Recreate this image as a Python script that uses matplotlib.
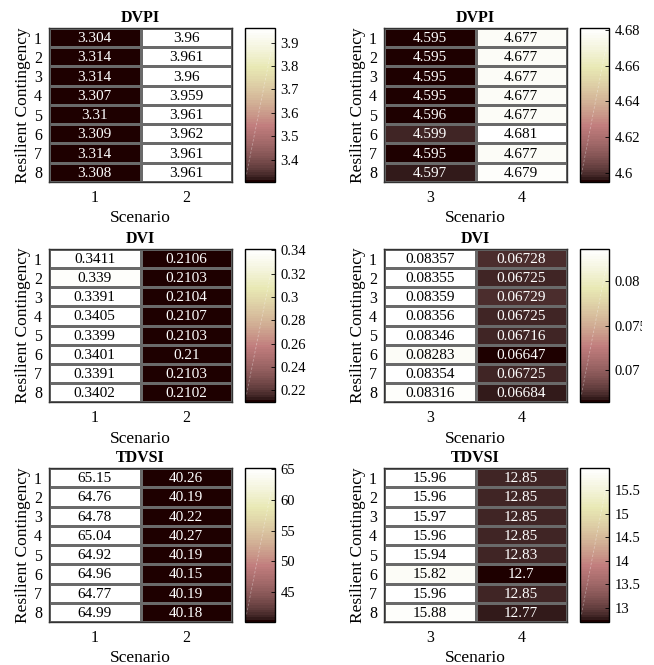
import numpy as np
import matplotlib
matplotlib.use("Agg")
from matplotlib import pyplot as plt
from matplotlib import ticker
from matplotlib.transforms import Bbox, TransformedBbox

plt.rcParams['font.family'] = ['Liberation Serif', 'DejaVu Serif']

contingency = ['1', '2', '3', '4', '5', '6', '7', '8']

dvpi_s1 = [3.304, 3.314, 3.314, 3.307, 3.31, 3.309, 3.314, 3.308]
dvpi_s2 = [3.96, 3.961, 3.96, 3.959, 3.961, 3.962, 3.961, 3.961]
dvpi_s3 = [4.595, 4.595, 4.595, 4.595, 4.596, 4.599, 4.595, 4.597]
dvpi_s4 = [4.677, 4.677, 4.677, 4.677, 4.677, 4.681, 4.677, 4.679]

dvi_s1 = [0.3411, 0.339, 0.3391, 0.3405, 0.3399, 0.3401, 0.3391, 0.3402]
dvi_s2 = [0.2106, 0.2103, 0.2104, 0.2107, 0.2103, 0.21, 0.2103, 0.2102]
dvi_s3 = [0.08357, 0.08355, 0.08359, 0.08356, 0.08346, 0.08283, 0.08354, 0.08316]
dvi_s4 = [0.06728, 0.06725, 0.06729, 0.06725, 0.06716, 0.06647, 0.06725, 0.06684]

tdvsi_s1 = [65.15, 64.76, 64.78, 65.04, 64.92, 64.96, 64.77, 64.99]
tdvsi_s2 = [40.26, 40.19, 40.22, 40.27, 40.19, 40.15, 40.19, 40.18]
tdvsi_s3 = [15.96, 15.96, 15.97, 15.96, 15.94, 15.82, 15.96, 15.88]
tdvsi_s4 = [12.85, 12.85, 12.85, 12.85, 12.83, 12.7, 12.85, 12.77]

panels = [
    ('DVPI', ['1', '2'], [dvpi_s1, dvpi_s2], [3.4, 3.5, 3.6, 3.7, 3.8, 3.9]),
    ('DVPI', ['3', '4'], [dvpi_s3, dvpi_s4], [4.6, 4.62, 4.64, 4.66, 4.68]),
    ('DVI', ['1', '2'], [dvi_s1, dvi_s2], [0.22, 0.24, 0.26, 0.28, 0.3, 0.32, 0.34]),
    ('DVI', ['3', '4'], [dvi_s3, dvi_s4], [0.07, 0.075, 0.08]),
    ('TDVSI', ['1', '2'], [tdvsi_s1, tdvsi_s2], [45, 50, 55, 60, 65]),
    ('TDVSI', ['3', '4'], [tdvsi_s3, tdvsi_s4], [13, 13.5, 14, 14.5, 15, 15.5]),
]

W, H = 654, 665
fig = plt.figure(figsize=(W / 100, H / 100), dpi=100)

# pixel boxes (left, right, cbar left, cbar right) and (top, bottom)
col_x = [(49, 232, 245, 275), (384, 567, 580, 609)]
row_y = [(28, 182), (249, 402), (468, 622)]

cmap = plt.get_cmap('pink', 64)

for i, (title, scen, cols, cticks) in enumerate(panels):
    r, c = divmod(i, 2)
    hx0, hx1, cx0, cx1 = col_x[c]
    y0, y1 = row_y[r]
    ax = fig.add_axes([hx0 / W, 1 - y1 / H, (hx1 - hx0) / W, (y1 - y0) / H])
    cax = fig.add_axes([cx0 / W, 1 - y1 / H, (cx1 - cx0) / W, (y1 - y0) / H])

    data = np.array(cols).T
    vmin, vmax = data.min(), data.max()
    mesh = ax.pcolormesh(data, cmap=cmap, vmin=vmin, vmax=vmax,
                         edgecolors='#6a6a6a', linewidth=0.8)
    ax.set_xlim(0, data.shape[1])
    ax.set_ylim(data.shape[0], 0)
    for (yy, xx), v in np.ndenumerate(data):
        frac = (v - vmin) / (vmax - vmin)
        ax.text(xx + 0.5, yy + 0.55, f'{v:.4g}', ha='center', va='center',
                fontsize=11, color='white' if frac < 0.5 else 'black')

    ax.set_xticks(np.arange(data.shape[1]) + 0.5)
    ax.set_xticklabels(scen)
    ax.set_yticks(np.arange(data.shape[0]) + 0.5)
    ax.set_yticklabels(contingency)
    ax.tick_params(length=0, labelsize=11.5, pad=6)
    ax.tick_params(axis='y', pad=5)
    ax.set_xlabel('Scenario', fontsize=12.5, labelpad=3)
    ax.set_ylabel('Resilient Contingency', fontsize=12.5, labelpad=2)
    ax.set_title(title, fontsize=11.5, fontweight='bold', pad=4)
    for s in ax.spines.values():
        s.set_color('#333333')
        s.set_linewidth(1)

    cb = fig.colorbar(mesh, cax=cax)
    cb.set_ticks(cticks)
    cb.ax.yaxis.set_major_formatter(ticker.StrMethodFormatter('{x:g}'))
    cb.ax.tick_params(direction='in', length=3, width=0.6, labelsize=10.5, pad=4)
    cb.outline.set_linewidth(1)
    cb.outline.set_edgecolor('black')
    cax.plot([0.05, 0.92], [0.05, 0.9], transform=cax.transAxes,
             color='white', lw=0.6, ls=(0, (3, 2)), alpha=0.35)

    # colorbar labels are cut off at the right end of the panel
    clip = TransformedBbox(Bbox([[0, 0], [(cx1 + 33) / W, 1]]), fig.transFigure)
    for lab in cb.ax.get_yticklabels():
        lab.set_clip_on(True)
        lab.set_clip_box(clip)

fig.savefig('out.png', dpi=100)
